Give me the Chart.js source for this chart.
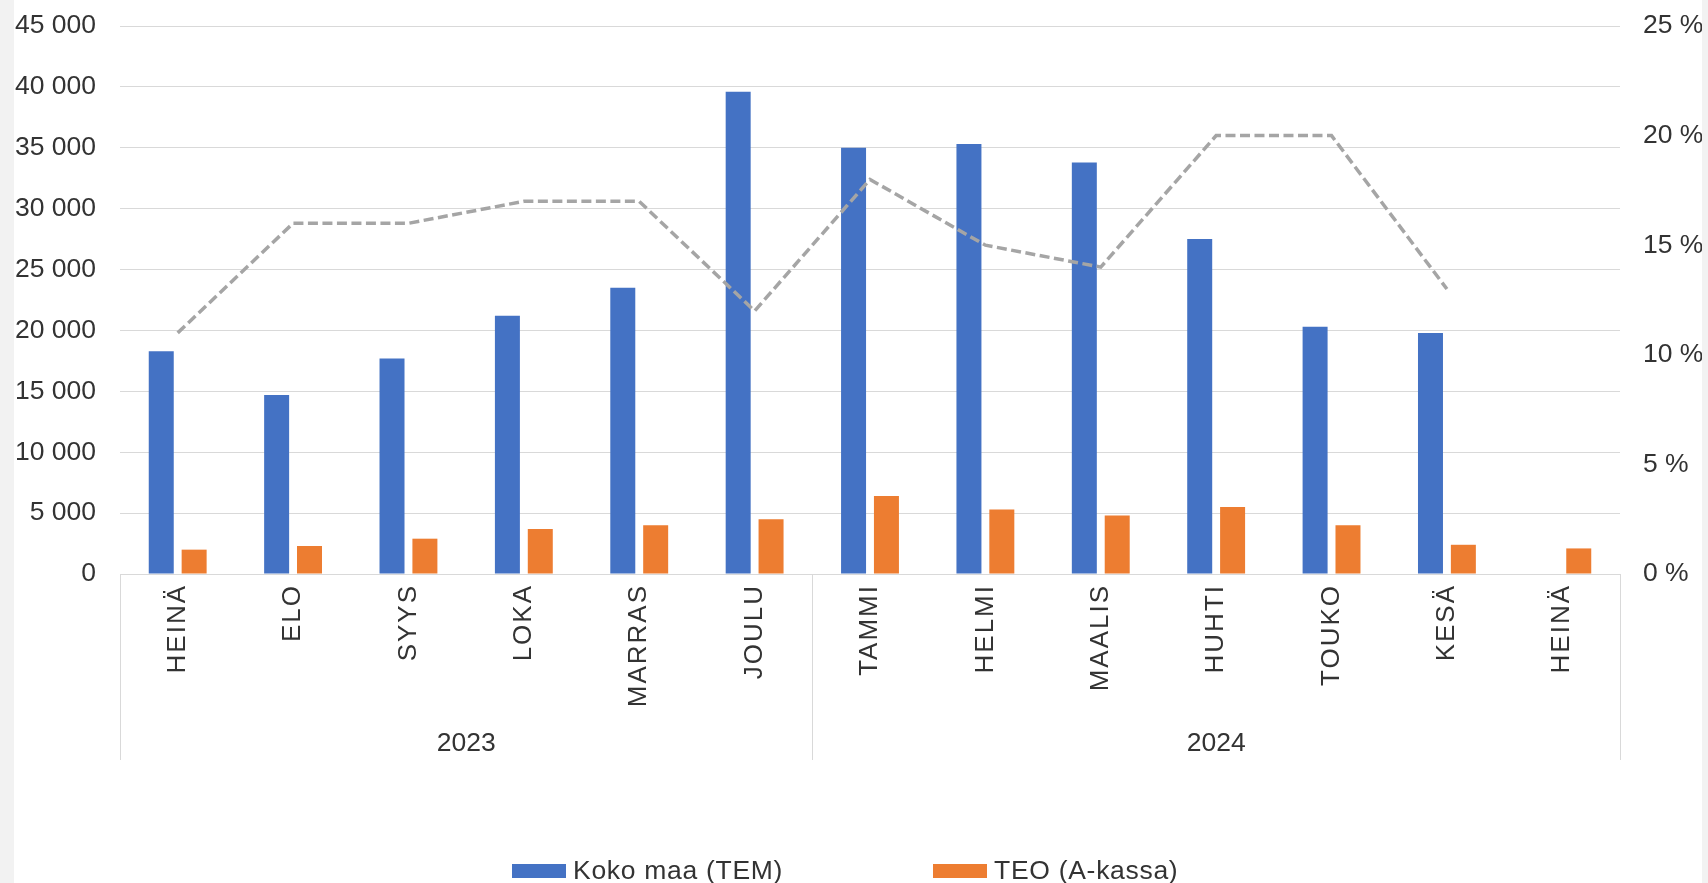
<!DOCTYPE html>
<html>
<head>
<meta charset="utf-8">
<script src="https://cdn.jsdelivr.net/npm/chart.js@4.4.1/dist/chart.umd.min.js"></script>
<style>
  html, body { margin: 0; padding: 0; width: 1708px; height: 883px; overflow: hidden; background: #f2f2f2; }
  #wrap { position: absolute; left: 14px; top: 0; width: 1688px; height: 883px; background: #fff; }
  #legend { position: absolute; left: 498px; top: 855px; display: flex; align-items: center;
            font: 26.5px "Liberation Sans", Arial, sans-serif; letter-spacing: 0.7px; color: #333; }
  .item { display: flex; align-items: center; margin-right: 150px; }
  .box { width: 54px; height: 14px; margin-right: 7px; }
</style>
</head>
<body>
<div id="wrap">
  <canvas id="chart"></canvas>
  <div id="legend"></div>
</div>
<script>
// months, grouped by year below the axis
const months = ['HEINÄ', 'ELO', 'SYYS', 'LOKA', 'MARRAS', 'JOULU',
                'TAMMI', 'HELMI', 'MAALIS', 'HUHTI', 'TOUKO', 'KESÄ', 'HEINÄ'];
const years = ['2023', '2024'];
const monthsPerYear = [6, 7];

// Koko maa (TEM)
const kokoMaa = [18300, 14700, 17700, 21200, 23500, 39600,
                 35000, 35300, 33800, 27500, 20300, 19800, null];
// TEO (A-kassa)
const teo = [2000, 2300, 2900, 3700, 4000, 4500,
             6400, 5300, 4800, 5500, 4000, 2400, 2100];
// share, % (right axis)
const osuus = [11, 16, 16, 17, 17, 12, 18, 15, 14, 20, 20, 13, null];

const BLUE = '#4472C4';
const ORANGE = '#ED7D31';
const GREY = '#A5A5A5';
const GRID = '#d9d9d9';
const TEXT = '#333333';
const FAMILY = '"Liberation Sans", Arial, sans-serif';
const FONT = { family: FAMILY, size: 26.5 };

function spaced(v) {
  return String(v).replace(/\B(?=(\d{3})+(?!\d))/g, ' ');
}

// month labels are drawn a little letter-spaced
const spacedMonths = {
  id: 'spacedMonths',
  beforeDraw(chart) {
    const x = chart.scales.x;
    if (x._wrapped) return;
    const orig = x.drawLabels;
    x.drawLabels = function (area) {
      const c = this.ctx;
      c.save();
      c.letterSpacing = '2px';
      orig.call(this, area);
      c.restore();
    };
    x._wrapped = true;
  }
};

// year row + separators under the month labels
const yearRow = {
  id: 'yearRow',
  afterDraw(chart) {
    const { ctx, chartArea } = chart;
    const x = chart.scales.x;
    const half = (x.getPixelForValue(1) - x.getPixelForValue(0)) / 2;
    const top = chartArea.bottom;
    ctx.save();
    ctx.strokeStyle = GRID;
    ctx.lineWidth = 1;
    ctx.fillStyle = TEXT;
    ctx.font = '26.5px ' + FAMILY;
    ctx.textAlign = 'center';
    ctx.textBaseline = 'middle';
    let start = 0;
    const edges = [x.getPixelForValue(0) - half];
    years.forEach((y, i) => {
      const end = start + monthsPerYear[i] - 1;
      const l = x.getPixelForValue(start) - half;
      const r = x.getPixelForValue(end) + half;
      edges.push(r);
      ctx.fillText(y, (l + r) / 2, top + 170);
      start = end + 1;
    });
    edges.forEach(e => {
      const px = Math.round(e) + 0.5;
      ctx.beginPath();
      ctx.moveTo(px, top);
      ctx.lineTo(px, top + 186);
      ctx.stroke();
    });
    ctx.restore();
  }
};

function fixWidth(w) {
  return s => { s.width = w; s.paddingTop = 0; s.paddingBottom = 0; };
}

const ctx = document.getElementById('chart').getContext('2d');
new Chart(ctx, {
  data: {
    labels: months,
    datasets: [
      {
        type: 'line',
        label: 'Osuus',
        data: osuus,
        yAxisID: 'y1',
        borderColor: GREY,
        borderWidth: 3.5,
        borderDash: [10, 4.5],
        pointRadius: 0,
        tension: 0,
        spanGaps: false,
        order: 0
      },
      {
        type: 'bar',
        label: 'Koko maa (TEM)',
        data: kokoMaa,
        backgroundColor: BLUE,
        yAxisID: 'y',
        order: 1
      },
      {
        type: 'bar',
        label: 'TEO (A-kassa)',
        data: teo,
        backgroundColor: ORANGE,
        yAxisID: 'y',
        order: 1
      }
    ]
  },
  options: {
    responsive: true,
    maintainAspectRatio: false,
    animation: false,
    datasets: { bar: { categoryPercentage: 0.57, barPercentage: 0.76 } },
    layout: { padding: { top: 26, left: 0, right: 0, bottom: 0 } },
    plugins: { legend: { display: false }, tooltip: { enabled: false } },
    scales: {
      x: {
        grid: { display: false },
        border: { display: true, color: GRID, width: 1 },
        ticks: { autoSkip: false, minRotation: 90, maxRotation: 90, padding: 2, color: TEXT,
                 font: { family: FAMILY, size: 26 } },
        afterFit(s) { s.height = 309; }
      },
      y: {
        position: 'left',
        min: 0, max: 45000,
        grid: { color: GRID, drawTicks: false },
        border: { display: false },
        ticks: { stepSize: 5000, padding: 24, color: TEXT, font: FONT, callback: v => spaced(v) },
        afterFit: fixWidth(106)
      },
      y1: {
        position: 'right',
        min: 0, max: 25,
        grid: { drawOnChartArea: false, drawTicks: false },
        border: { display: false },
        ticks: { stepSize: 5, padding: 23, color: TEXT, font: FONT, callback: v => v + ' %' },
        afterFit: fixWidth(82)
      }
    }
  },
  plugins: [spacedMonths, yearRow]
});

// legend for the bar series
const legend = document.getElementById('legend');
[['Koko maa (TEM)', BLUE], ['TEO (A-kassa)', ORANGE]].forEach(([name, col]) => {
  const item = document.createElement('div');
  item.className = 'item';
  const box = document.createElement('span');
  box.className = 'box';
  box.style.background = col;
  const txt = document.createElement('span');
  txt.textContent = name;
  item.appendChild(box);
  item.appendChild(txt);
  legend.appendChild(item);
});
</script>
</body>
</html>
